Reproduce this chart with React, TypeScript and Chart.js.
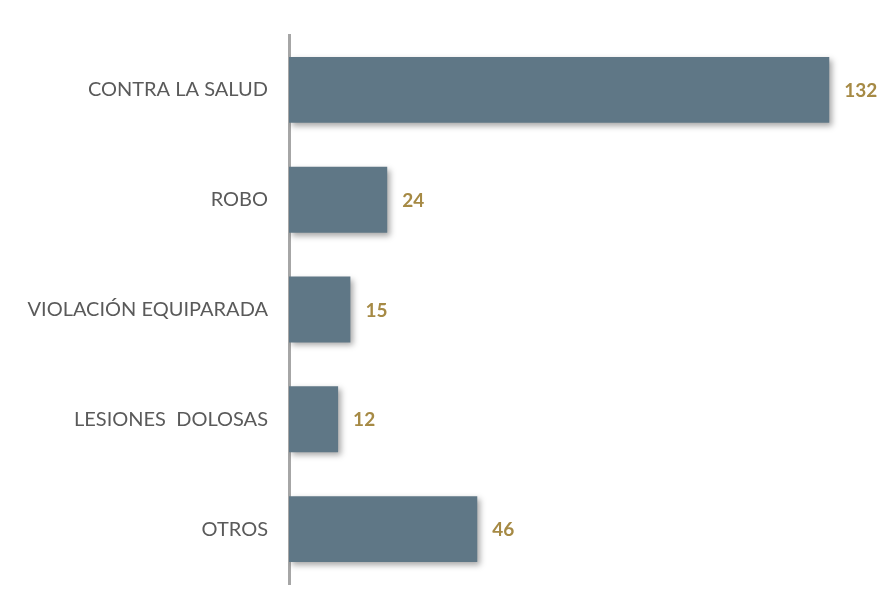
import React, { useEffect, useRef } from "react";
import { Chart, registerables } from "chart.js";

Chart.register(...registerables);

const categories = ["CONTRA LA SALUD", "ROBO", "VIOLACIÓN EQUIPARADA", "LESIONES  DOLOSAS", "OTROS"];
const values = [132, 24, 15, 12, 46];

const shadowPlugin = {
  id: "barShadow",
  beforeDatasetsDraw(chart: any) {
    const ctx = chart.ctx;
    ctx.save();
    ctx.shadowColor = "rgba(0,0,0,0.35)";
    ctx.shadowBlur = 6;
    ctx.shadowOffsetX = 3;
    ctx.shadowOffsetY = 3;
  },
  afterDatasetsDraw(chart: any) {
    const ctx = chart.ctx;
    ctx.restore();
    const meta = chart.getDatasetMeta(0);
    ctx.save();
    ctx.font = "bold 19px Lato, 'Open Sans', sans-serif";
    ctx.fillStyle = "#a68a45";
    ctx.textAlign = "left";
    ctx.textBaseline = "middle";
    meta.data.forEach((bar: any, i: number) => {
      ctx.fillText(String(chart.data.datasets[0].data[i]), bar.x + 15, bar.y + 1);
    });
    ctx.restore();
  },
};

export default function App() {
  const ref = useRef<HTMLCanvasElement | null>(null);
  useEffect(() => {
    if (!ref.current) return;
    const chart = new Chart(ref.current, {
      type: "bar",
      data: {
        labels: categories,
        datasets: [
          {
            data: values,
            backgroundColor: "#5f7786",
            borderWidth: 0,
            categoryPercentage: 1,
            barPercentage: 0.6,
          },
        ],
      },
      options: {
        indexAxis: "y",
        animation: false,
        responsive: false,
        maintainAspectRatio: false,
        layout: { padding: { top: 35, bottom: 26, right: 23, left: 0 } },
        plugins: { legend: { display: false }, tooltip: { enabled: false } },
        scales: {
          x: { display: false, min: 0, max: 140 },
          y: {
            afterFit: (scale: any) => {
              scale.width = 289;
              scale.paddingTop = 0;
              scale.paddingBottom = 0;
            },
            grid: { display: false, drawTicks: false },
            border: { display: true, color: "#a6a6a6", width: 3 },
            ticks: {
              padding: 21,
              color: "#5a5a5a",
              font: { family: "Lato, 'Open Sans', sans-serif", size: 20 },
            },
          },
        },
      },
      plugins: [shadowPlugin],
    });
    return () => chart.destroy();
  }, []);
  return (
    <div style={{ position: "fixed", left: 0, top: 0, width: 885, height: 610, background: "#fff" }}>
      <canvas ref={ref} width={885} height={610} />
    </div>
  );
}
